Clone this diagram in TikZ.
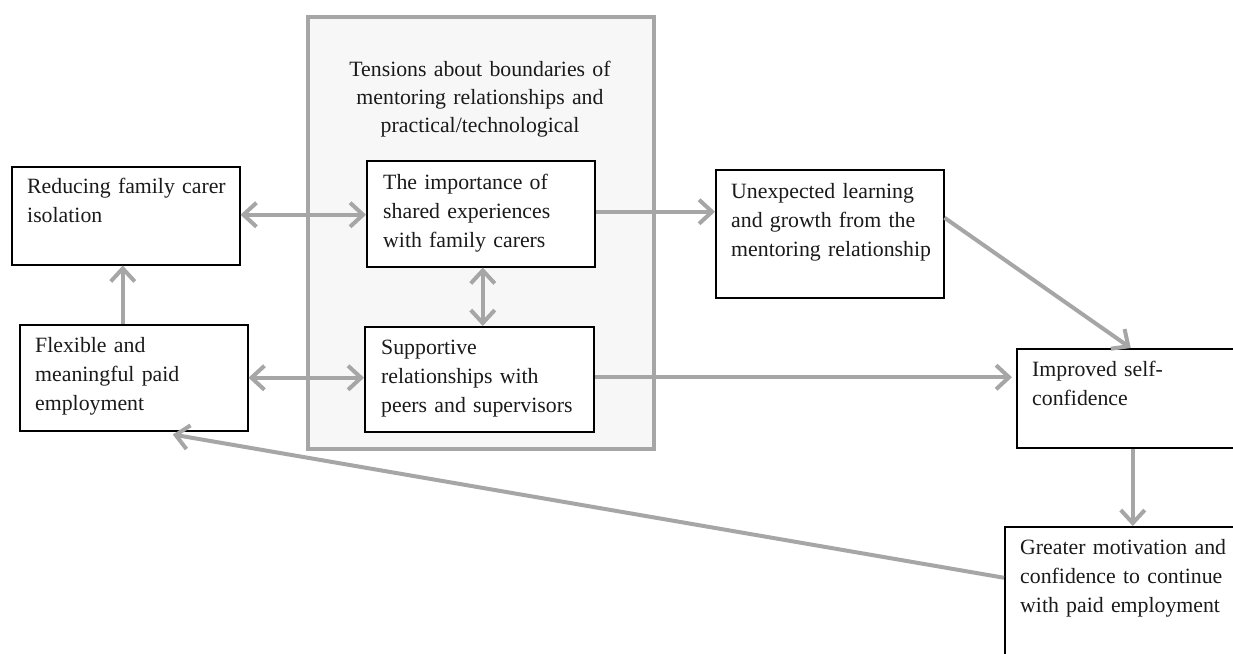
\documentclass[tikz,border=0pt]{standalone}
\usepackage{fontspec}
\setmainfont{Liberation Serif}
\usetikzlibrary{arrows.meta}
\definecolor{arr}{HTML}{A6A6A6}
\definecolor{panel}{HTML}{F7F7F7}
\definecolor{ink}{HTML}{1A1A1A}
\tikzset{
  boxnode/.style={draw=black, line width=1.5pt, fill=white, anchor=north west, inner sep=0pt},
  txt/.style={anchor=base west, inner sep=0pt, align=left, text width=220pt, text=ink,
     font=\fontsize{21.8}{29}\selectfont},
  conn/.style={draw=arr, line width=4pt, -{Straight Barb[length=13pt,width=24pt]}},
  bconn/.style={draw=arr, line width=4pt, {Straight Barb[length=13pt,width=24pt]}-{Straight Barb[length=13pt,width=24pt]}}
}
\begin{document}
\begin{tikzpicture}[x=1pt,y=-1pt]
\useasboundingbox (0,0) rectangle (1233,653);
\fill[white] (0,0) rectangle (1233,653);
% outer panel
\node[draw=arr, line width=4pt, fill=panel, anchor=north west, inner sep=0pt,
      minimum width=346pt, minimum height=432pt] (panel) at (306,15) {};
\node[anchor=base, inner sep=0pt, align=center, text width=330pt, text=ink,
      font=\fontsize{21.8}{28}\selectfont] (title) at (480,76)
  {Tensions about boundaries of\\mentoring relationships and\\practical/technological};
% boxes
\node[boxnode, minimum width=228pt, minimum height=98pt] (red) at (11,166) {};
\node[boxnode, minimum width=228pt, minimum height=106pt] (flex) at (19,324) {};
\node[boxnode, minimum width=228pt, minimum height=106pt] (imp) at (366,160) {};
\node[boxnode, minimum width=229pt, minimum height=105pt] (sup) at (364,326) {};
\node[boxnode, minimum width=228pt, minimum height=128pt] (unx) at (715,169) {};
\node[boxnode, minimum width=224pt, minimum height=99pt] (impr) at (1016,348) {};
\node[boxnode, minimum width=241pt, minimum height=154pt] (grt) at (1004,526) {};
% texts
\node[txt] (tred) at (27,193) {Reducing family carer\\isolation};
\node[txt] (tflex) at (35,352) {Flexible and\\meaningful paid\\employment};
\node[txt] (timp) at (383,189) {The importance of\\shared experiences\\with family carers};
\node[txt] (tsup) at (381,354) {Supportive\\relationships with\\peers and supervisors};
\node[txt] (tunx) at (731,198) {Unexpected learning\\and growth from the\\mentoring relationship};
\node[txt] (timpr) at (1032,376) {Improved self-\\confidence};
\node[txt, text width=230pt] (tgrt) at (1020,554) {Greater motivation and\\confidence to continue\\with paid employment};
% connectors
\draw[bconn] ([yshift=1pt]red.east) -- ([yshift=1pt]red.east -| imp.west);
\draw[bconn] (flex.east) -- (flex.east -| sup.west);
\draw[conn] ([xshift=-11pt]flex.north) -- ([xshift=-11pt]flex.north |- red.south);
\draw[bconn] ([xshift=2pt]imp.south) -- ([xshift=2pt]imp.south |- sup.north);
\draw[conn] ([yshift=2pt]imp.east) -- ([yshift=2pt]imp.east -| unx.west);
\draw[conn, shorten >=4pt] ([yshift=2pt]sup.east) -- ([yshift=2pt]sup.east -| impr.west);
\draw[conn] ([yshift=16pt]unx.east) -- ([xshift=2pt]impr.north);
\draw[conn] ([xshift=4pt]impr.south) -- ([xshift=4pt]impr.south |- grt.north);
\draw[conn] ([yshift=26pt]grt.west) -- ([xshift=39pt,yshift=-3pt]flex.south);
\end{tikzpicture}
\end{document}
